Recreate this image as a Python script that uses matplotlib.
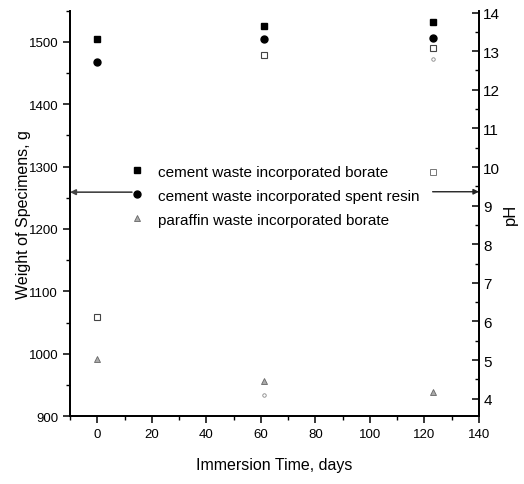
import numpy as np
import matplotlib
matplotlib.use('Agg')
import matplotlib.pyplot as plt
from matplotlib.lines import Line2D
from matplotlib.ticker import MultipleLocator

plt.rcParams['font.family'] = ['Liberation Sans Narrow', 'Liberation Sans', 'DejaVu Sans']

#-- DATA
days = [0, 61, 123]
w_cement_borate = [1504, 1526, 1532]
w_cement_resin = [1468, 1505, 1506]
w_paraffin_borate = [992, 956, 938]
ph_cement_borate = [6.12, 12.89, 13.07]
ph_cement_resin = [np.nan, 4.1, 12.8]
ph_paraffin_borate = [np.nan, np.nan, 9.87]
labels = ['cement waste incorporated borate',
          'cement waste incorporated spent resin',
          'paraffin waste incorporated borate']

#-- FIGURE
fig = plt.figure(figsize=(5.24, 4.85), dpi=100)
ax = fig.add_axes([0.1336, 0.140, 0.7805, 0.836])
ax2 = ax.twinx()

ax.plot(days, w_cement_borate, ls='none', marker='s', ms=5, color='black')
ax.plot(days, w_cement_resin, ls='none', marker='o', ms=5, color='black')
ax.plot(days, w_paraffin_borate, ls='none', marker='^', ms=4, mfc='#aaaaaa', mec='#666666', mew=0.6)
ax2.plot(days, ph_cement_borate, ls='none', marker='s', ms=4.5, mfc='white', mec='#444444', mew=0.8)
ax2.plot(days, ph_cement_resin, ls='none', marker='o', ms=2.5, mfc='white', mec='#888888', mew=0.6)
ax2.plot(days, ph_paraffin_borate, ls='none', marker='s', ms=4, mfc='white', mec='#777777', mew=0.7)

#-- AXES
ax.set_xlim(-10, 140)
ax.set_ylim(900, 1550)
ax2.set_ylim(3.55, 14.05)
ax.xaxis.set_major_locator(MultipleLocator(20))
ax.xaxis.set_minor_locator(MultipleLocator(10))
ax.yaxis.set_major_locator(MultipleLocator(100))
ax.yaxis.set_minor_locator(MultipleLocator(50))
ax2.yaxis.set_major_locator(MultipleLocator(1))
ax2.yaxis.set_minor_locator(MultipleLocator(0.5))
ax.set_xticks(np.arange(0, 141, 20))

for a in (ax, ax2):
    a.spines['top'].set_visible(False)
    for s in a.spines.values():
        s.set_linewidth(1.3)
ax.tick_params(axis='both', which='major', direction='out', length=5, width=1.1, labelsize=9.5)
ax.tick_params(axis='both', which='minor', direction='out', length=3, width=1.0)
ax2.tick_params(axis='y', which='major', direction='in', length=5, width=1.1, labelsize=11, pad=3)
ax2.tick_params(axis='y', which='minor', direction='in', length=3, width=1.0)

ax.set_xlabel('Immersion Time, days', fontsize=11.5, labelpad=12)
ax.set_ylabel('Weight of Specimens, g', fontsize=11.5, labelpad=-2)
ax2.set_ylabel('pH', fontsize=12, rotation=90, labelpad=2)

#-- LEGEND
handles = [Line2D([], [], ls='none', marker='s', ms=5, color='black'),
           Line2D([], [], ls='none', marker='o', ms=5, color='black'),
           Line2D([], [], ls='none', marker='^', ms=4, mfc='#aaaaaa', mec='#666666', mew=0.6)]
ax.legend(handles, labels, loc='upper left', bbox_to_anchor=(0.112, 0.654), frameon=False,
          fontsize=11, handlelength=1.0, handletextpad=0.85, labelspacing=0.66)

#-- ARROWS
ax.annotate('', xy=(-10, 1259), xytext=(12.7, 1259),
            arrowprops=dict(arrowstyle='-|>', color='#444444', lw=1.2, mutation_scale=8,
                            shrinkA=0, shrinkB=0))
ax2.annotate('', xy=(140, 9.36), xytext=(123, 9.36),
             arrowprops=dict(arrowstyle='-|>', color='#222222', lw=1.0, mutation_scale=8,
                             shrinkA=0, shrinkB=0))

fig.savefig('out.png', dpi=100)
